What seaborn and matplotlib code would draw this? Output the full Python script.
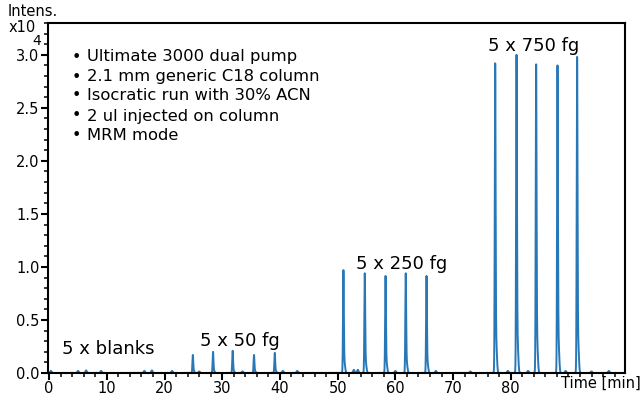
import numpy as np
import pandas as pd
import matplotlib
matplotlib.use("Agg")
import matplotlib.pyplot as plt
import seaborn as sns

# ---- data ----
peak_times_50 = [24.9, 28.4, 31.8, 35.5, 39.1]
peak_heights_50 = [0.17, 0.20, 0.21, 0.17, 0.19]
peak_times_250 = [51.0, 54.7, 58.3, 61.8, 65.4]
peak_heights_250 = [0.97, 0.94, 0.915, 0.94, 0.915]
peak_times_750 = [77.3, 81.0, 84.4, 88.1, 91.5]
peak_heights_750 = [2.92, 3.00, 2.91, 2.90, 2.98]
noise_times = [0.3, 5.0, 6.4, 9.0, 16.5, 17.8, 21.3, 26.0, 33.5, 40.5, 43.0,
               52.8, 53.5, 60.0, 67.0, 73.0, 79.5, 83.0, 89.5, 94.0, 97.0]
noise_heights = [0.02, 0.02, 0.025, 0.02, 0.02, 0.025, 0.02, 0.015, 0.015, 0.02, 0.02,
                 0.03, 0.03, 0.02, 0.02, 0.015, 0.02, 0.02, 0.02, 0.015, 0.02]
x_ticks = [0, 10, 20, 30, 40, 50, 60, 70, 80]
y_ticks = [0.0, 0.5, 1.0, 1.5, 2.0, 2.5, 3.0]
notes = ["Ultimate 3000 dual pump", "2.1 mm generic C18 column",
         "Isocratic run with 30% ACN", "2 ul injected on column", "MRM mode"]
group_labels = ["5 x blanks", "5 x 50 fg", "5 x 250 fg", "5 x 750 fg"]

# ---- build trace from the peak table ----
t = np.arange(0.0, 99.5, 0.01)
sig = np.zeros_like(t)
for tt, hh in zip(peak_times_50 + peak_times_250 + peak_times_750,
                  peak_heights_50 + peak_heights_250 + peak_heights_750):
    shape = np.exp(-0.5 * ((t - tt) / 0.07) ** 2) \
        + 0.12 * np.exp(-0.5 * ((t - tt - 0.14) / 0.14) ** 2)
    sig += hh * shape / shape.max()
for tt, hh in zip(noise_times, noise_heights):
    sig += hh * np.exp(-0.5 * ((t - tt) / 0.12) ** 2)
df = pd.DataFrame({"time": t, "intensity": sig})

sns.set_theme(style="ticks")
plt.rcParams['font.family'] = ['DejaVu Sans']
plt.rcParams['text.color'] = 'black'

W, H = 644, 401
fig = plt.figure(figsize=(W / 100, H / 100), dpi=100)
ax = fig.add_axes([48 / W, 1 - 373 / H, (625 - 48) / W, (373 - 23) / H])

sns.lineplot(data=df, x="time", y="intensity", ax=ax, color="#2878b8", linewidth=1.4)

ax.set_xlim(-0.2, 99.8)
ax.set_ylim(0, 3.3)
ax.set_xticks(x_ticks)
ax.set_xticks(np.arange(0, 100, 2), minor=True)
ax.set_yticks(y_ticks)
ax.set_yticks(np.arange(0, 3.31, 0.1), minor=True)
ax.set_yticklabels([f"{v:.1f}" for v in y_ticks])
ax.set_xlabel("")
ax.set_ylabel("")
ax.tick_params(axis="both", which="major", direction="out", length=5, width=1.5,
               labelsize=10.5, colors="black", pad=1)
ax.tick_params(axis="both", which="minor", direction="out", length=3, width=1.3)
for s in ax.spines.values():
    s.set_linewidth(1.5)
    s.set_color("black")
    s.set_visible(True)

def ftext(px, py, s, **kw):
    fig.text(px / W, 1 - py / H, s, color="black", **kw)

ftext(8, 12, "Intens.", fontsize=10.5, ha="left", va="center")
ftext(9, 28, "x10", fontsize=10.5, ha="left", va="center")
ftext(37, 41, "4", fontsize=10, ha="center", va="center")
ftext(641, 383, "Time [min]", fontsize=10.5, ha="right", va="center")

ys = [57, 77, 96, 116, 136]
for y, s in zip(ys, notes):
    ftext(76, y, "\u2022", fontsize=11.5, ha="center", va="center")
    ftext(87, y, s, fontsize=11.8, ha="left", va="center")

ftext(108, 349, group_labels[0], fontsize=13, ha="center", va="center")
ftext(240, 341, group_labels[1], fontsize=13, ha="center", va="center")
ftext(402, 264, group_labels[2], fontsize=13, ha="center", va="center")
ftext(534, 46, group_labels[3], fontsize=13, ha="center", va="center")

fig.savefig("out.png", dpi=100)
